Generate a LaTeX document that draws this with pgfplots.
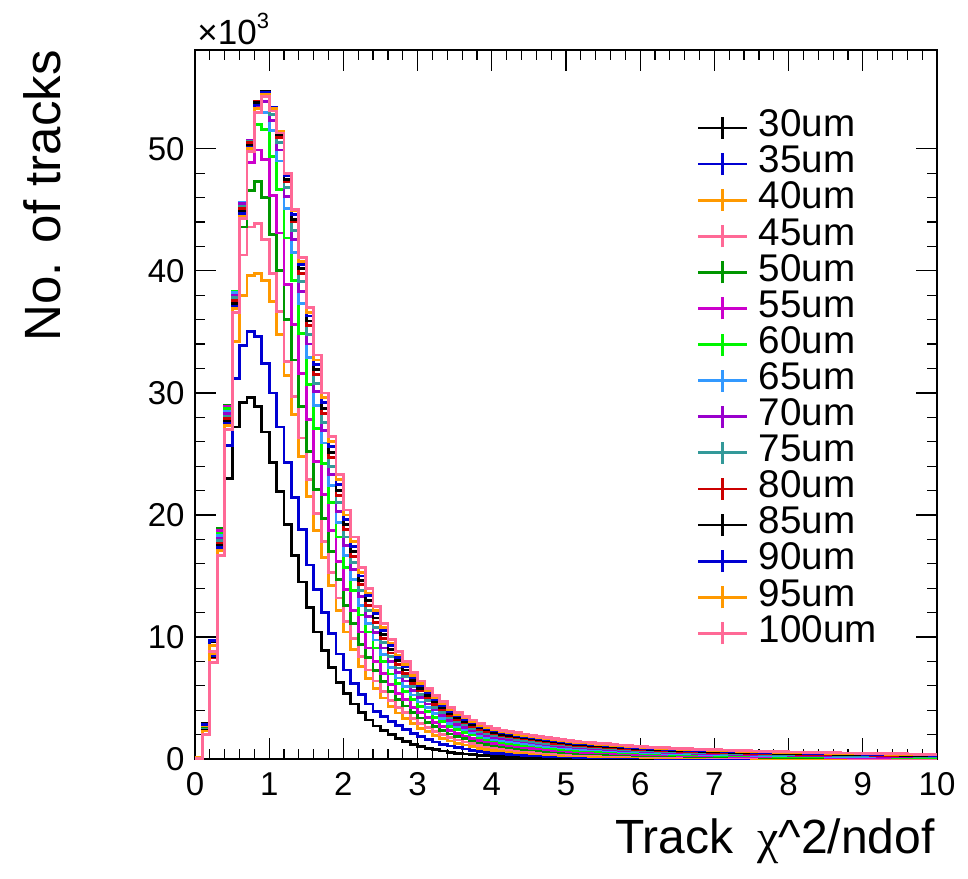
\documentclass[border=0pt]{standalone}
\usepackage{fontspec}
\setmainfont{Liberation Sans}
\newfontfamily\symfont{Liberation Serif}
\usepackage{pgfplots}
\pgfplotsset{compat=1.18}
\usepackage{pgfplotstable}
\definecolor{c30}{RGB}{0,0,0}
\definecolor{c35}{RGB}{0,0,210}
\definecolor{c40}{RGB}{255,153,0}
\definecolor{c45}{RGB}{255,105,150}
\definecolor{c50}{RGB}{0,150,0}
\definecolor{c55}{RGB}{204,0,204}
\definecolor{c60}{RGB}{0,245,0}
\definecolor{c65}{RGB}{51,153,255}
\definecolor{c70}{RGB}{153,0,204}
\definecolor{c75}{RGB}{51,153,153}
\definecolor{c80}{RGB}{204,0,0}
\pgfplotstableread{
x s30 s35 s40 s45 s50 s55 s60 s65 s70 s75 s80 s85 s90 s95 s100
0.0 0.1 0.1 0.1 0.1 0.1 0.1 0.1 0.1 0.1 0.1 0.1 0.1 0.1 0.1 0.05
0.1 2.9 2.8 2.6 2.5 2.5 2.45 2.45 2.4 2.4 2.4 2.35 2.35 2.3 2.3 2.0
0.2 9.6 9.7 9.3 8.8 8.6 8.4 8.3 8.3 8.3 8.3 8.3 8.4 8.5 8.6 7.9
0.3 17.8 18.3 18.4 18.6 18.9 18.7 18.5 18.3 18.1 17.9 17.7 17.5 17.3 17.1 16.7
0.4 23.0 25.7 27.5 28.2 29.0 28.9 28.7 28.5 28.3 28.1 27.9 27.7 27.5 27.3 27.0
0.5 27.2 31.2 34.2 37.0 38.0 38.3 38.3 38.2 38.0 37.8 37.6 37.3 37.1 36.9 36.6
0.6 29.2 33.9 38.0 41.3 43.6 45.0 45.5 45.6 45.5 45.3 45.1 44.9 44.7 44.5 44.3
0.7 29.6 35.0 39.6 43.6 46.6 48.9 50.2 50.6 50.7 50.6 50.5 50.3 50.1 50.0 49.8
0.8 28.9 34.6 39.8 43.9 47.3 49.9 52.0 53.0 53.5 53.8 53.9 53.8 53.6 53.3 53.0
0.9 26.8 32.4 39.2 42.6 46.0 49.1 51.6 53.0 53.9 54.3 54.6 54.7 54.6 54.5 54.3
1.0 24.3 30.0 37.5 39.8 43.0 46.2 49.4 51.5 52.3 52.8 53.1 53.4 53.4 53.3 53.1
1.1 21.9 27.2 34.8 36.7 40.0 43.1 46.7 49.0 49.9 50.5 50.9 51.2 51.3 51.4 51.3
1.2 19.2 24.3 31.4 32.6 36.0 38.9 42.7 45.1 46.1 46.8 47.3 47.5 47.8 48.0 48.0
1.3 16.7 21.4 28.2 29.7 32.7 35.6 39.2 41.5 42.6 43.3 44.0 44.2 44.6 44.9 45.0
1.4 14.5 18.8 24.8 26.3 28.9 31.6 34.9 37.3 38.3 39.1 39.8 40.2 40.5 40.8 41.1
1.5 12.4 15.9 21.5 22.9 25.2 27.8 30.7 32.9 34.0 34.8 35.5 35.9 36.3 36.6 37.0
1.6 10.4 13.9 18.7 20.1 22.1 24.4 27.1 29.0 30.1 30.8 31.5 31.9 32.3 32.7 33.1
1.7 8.9 12.0 16.5 17.8 19.7 21.7 24.2 25.9 26.9 27.6 28.3 28.7 29.2 29.6 30.0
1.8 7.5 10.3 14.2 15.3 17.0 18.7 21.0 22.4 23.3 24.0 24.7 25.1 25.6 26.0 26.4
1.9 6.3 8.6 12.2 13.2 14.7 16.2 18.2 19.4 20.3 21.0 21.6 22.0 22.5 22.9 23.3
2.0 5.4 7.3 10.4 11.3 12.6 13.9 15.7 16.7 17.5 18.2 18.8 19.2 19.6 20.0 20.4
2.1 4.5 6.2 9.0 9.9 11.1 12.2 13.8 14.7 15.5 16.1 16.6 17.0 17.4 17.8 18.2
2.2 3.8 5.3 7.6 8.4 9.4 10.4 11.8 12.6 13.3 13.8 14.3 14.6 15.0 15.3 15.7
2.3 3.2 4.5 6.6 7.3 8.3 9.1 10.4 11.1 11.7 12.2 12.6 13.0 13.4 13.6 14.0
2.4 2.7 3.9 5.8 6.4 7.25 8.0 9.1 9.75 10.35 10.8 11.2 11.55 11.9 12.2 12.5
2.5 2.35 3.5 5.0 5.55 6.33 7.0 8.0 8.55 9.1 9.55 9.88 10.2 10.55 10.8 11.1
2.6 2.0 3.1 4.3 4.81 5.50 6.10 6.97 7.47 7.97 8.37 8.68 8.99 9.29 9.50 9.8
2.7 1.7 2.75 3.77 4.24 4.86 5.40 6.18 6.64 7.09 7.46 7.76 8.04 8.32 8.52 8.8
2.8 1.45 2.4 3.34 3.78 4.34 4.85 5.54 5.97 6.39 6.74 7.02 7.29 7.55 7.74 8.0
2.9 1.2 2.1 2.88 3.29 3.79 4.25 4.86 5.24 5.62 5.94 6.21 6.45 6.69 6.86 7.1
3.0 1.02 1.85 2.53 2.91 3.36 3.78 4.32 4.67 5.02 5.31 5.57 5.79 6.02 6.18 6.4
3.1 0.88 1.6 2.23 2.59 2.99 3.38 3.86 4.19 4.51 4.78 5.02 5.23 5.44 5.59 5.8
3.2 0.76 1.4 1.94 2.27 2.64 2.98 3.42 3.71 4.01 4.25 4.48 4.67 4.87 5.01 5.2
3.3 0.65 1.22 1.70 2.01 2.34 2.66 3.05 3.32 3.59 3.82 4.03 4.21 4.39 4.52 4.7
3.4 0.56 1.07 1.47 1.76 2.05 2.34 2.68 2.93 3.18 3.39 3.59 3.75 3.91 4.04 4.2
3.5 0.48 0.93 1.29 1.56 1.82 2.09 2.39 2.62 2.85 3.04 3.23 3.38 3.53 3.65 3.8
3.6 0.41 0.82 1.15 1.40 1.65 1.89 2.17 2.39 2.60 2.78 2.96 3.10 3.24 3.36 3.5
3.7 0.35 0.72 1.02 1.25 1.47 1.70 1.96 2.16 2.36 2.52 2.69 2.83 2.96 3.06 3.2
3.8 0.30 0.63 0.89 1.10 1.31 1.51 1.75 1.94 2.12 2.27 2.42 2.55 2.67 2.77 2.9
3.9 0.26 0.55 0.80 1.00 1.19 1.39 1.61 1.78 1.95 2.10 2.24 2.37 2.48 2.58 2.7
4.0 0.22 0.48 0.72 0.90 1.08 1.26 1.47 1.63 1.79 1.93 2.07 2.18 2.29 2.38 2.5
4.1 0.20 0.43 0.65 0.82 0.99 1.16 1.36 1.52 1.67 1.80 1.93 2.04 2.15 2.24 2.35
4.2 0.18 0.39 0.60 0.77 0.92 1.09 1.28 1.44 1.58 1.72 1.84 1.95 2.05 2.14 2.25
4.3 0.16 0.35 0.55 0.71 0.86 1.02 1.21 1.36 1.50 1.63 1.75 1.86 1.95 2.04 2.15
4.4 0.14 0.31 0.50 0.66 0.80 0.96 1.13 1.28 1.41 1.54 1.66 1.76 1.86 1.94 2.05
4.5 0.12 0.28 0.45 0.60 0.74 0.89 1.06 1.20 1.33 1.46 1.57 1.67 1.76 1.85 1.95
4.6 0.11 0.25 0.41 0.56 0.68 0.83 0.99 1.13 1.25 1.37 1.48 1.58 1.67 1.75 1.85
4.7 0.10 0.22 0.37 0.51 0.63 0.77 0.92 1.05 1.17 1.29 1.39 1.49 1.57 1.65 1.75
4.8 0.09 0.20 0.33 0.46 0.58 0.71 0.85 0.98 1.09 1.21 1.30 1.40 1.48 1.56 1.65
4.9 0.08 0.18 0.30 0.43 0.54 0.66 0.80 0.93 1.04 1.15 1.24 1.33 1.41 1.49 1.58
5.0 0.07 0.16 0.27 0.39 0.50 0.62 0.75 0.87 0.98 1.08 1.17 1.26 1.34 1.41 1.5
5.1 0.07 0.15 0.26 0.37 0.47 0.59 0.72 0.84 0.94 1.04 1.13 1.22 1.29 1.36 1.45
5.2 0.06 0.14 0.245 0.35 0.45 0.56 0.69 0.80 0.90 1.00 1.09 1.17 1.24 1.31 1.4
5.3 0.06 0.13 0.23 0.34 0.43 0.54 0.66 0.77 0.86 0.96 1.04 1.13 1.20 1.27 1.35
5.4 0.05 0.12 0.22 0.32 0.41 0.51 0.63 0.73 0.83 0.92 1.00 1.08 1.15 1.22 1.3
5.5 0.05 0.11 0.21 0.30 0.39 0.49 0.60 0.70 0.79 0.88 0.96 1.04 1.10 1.17 1.25
5.6 0.05 0.10 0.20 0.29 0.37 0.47 0.57 0.67 0.75 0.84 0.92 0.99 1.06 1.12 1.2
5.7 0.04 0.10 0.185 0.27 0.35 0.44 0.54 0.63 0.72 0.80 0.88 0.95 1.01 1.08 1.15
5.8 0.04 0.09 0.175 0.26 0.33 0.42 0.51 0.60 0.68 0.76 0.83 0.91 0.97 1.03 1.1
5.9 0.04 0.09 0.165 0.24 0.315 0.40 0.49 0.57 0.65 0.72 0.79 0.86 0.92 0.98 1.05
6.0 0.03 0.08 0.153 0.23 0.30 0.37 0.46 0.54 0.61 0.69 0.75 0.82 0.88 0.93 1.0
6.1 0.03 0.08 0.146 0.22 0.285 0.36 0.44 0.52 0.59 0.66 0.73 0.79 0.85 0.90 0.97
6.2 0.03 0.07 0.139 0.21 0.27 0.34 0.425 0.50 0.57 0.64 0.70 0.77 0.82 0.87 0.94
6.3 0.03 0.07 0.133 0.20 0.26 0.33 0.41 0.48 0.55 0.62 0.68 0.74 0.79 0.84 0.91
6.4 0.03 0.07 0.127 0.19 0.25 0.32 0.39 0.46 0.53 0.59 0.65 0.71 0.77 0.82 0.88
6.5 0.03 0.06 0.119 0.18 0.24 0.30 0.37 0.44 0.51 0.57 0.63 0.69 0.74 0.79 0.85
6.6 0.03 0.06 0.114 0.17 0.23 0.29 0.36 0.43 0.49 0.55 0.61 0.67 0.72 0.77 0.83
6.7 0.03 0.06 0.109 0.165 0.22 0.28 0.35 0.415 0.48 0.54 0.60 0.65 0.70 0.75 0.81
6.8 0.03 0.05 0.104 0.16 0.213 0.27 0.34 0.40 0.46 0.52 0.58 0.64 0.68 0.73 0.79
6.9 0.03 0.05 0.099 0.15 0.205 0.26 0.33 0.39 0.45 0.51 0.56 0.62 0.67 0.71 0.77
7.0 0.02 0.04 0.095 0.145 0.197 0.25 0.315 0.375 0.43 0.49 0.55 0.60 0.65 0.69 0.75
7.1 0.02 0.04 0.091 0.14 0.19 0.243 0.30 0.36 0.42 0.47 0.53 0.58 0.63 0.67 0.73
7.2 0.02 0.04 0.087 0.13 0.182 0.234 0.29 0.35 0.40 0.46 0.51 0.565 0.61 0.65 0.71
7.3 0.02 0.04 0.083 0.127 0.175 0.225 0.28 0.34 0.39 0.44 0.50 0.55 0.59 0.64 0.69
7.4 0.02 0.04 0.079 0.12 0.167 0.216 0.27 0.325 0.38 0.43 0.48 0.53 0.575 0.62 0.67
7.5 0.02 0.04 0.073 0.115 0.16 0.207 0.26 0.31 0.36 0.41 0.46 0.51 0.56 0.60 0.65
7.6 0.02 0.04 0.07 0.11 0.153 0.198 0.25 0.30 0.35 0.40 0.45 0.50 0.54 0.58 0.63
7.7 0.02 0.04 0.067 0.105 0.149 0.193 0.243 0.29 0.34 0.39 0.44 0.49 0.53 0.57 0.62
7.8 0.02 0.04 0.065 0.10 0.145 0.187 0.237 0.285 0.33 0.38 0.43 0.48 0.52 0.56 0.61
7.9 0.02 0.04 0.062 0.098 0.14 0.182 0.23 0.28 0.326 0.37 0.42 0.47 0.51 0.55 0.6
8.0 0.02 0.035 0.058 0.093 0.133 0.174 0.22 0.267 0.313 0.36 0.41 0.45 0.49 0.53 0.58
8.1 0.02 0.035 0.057 0.09 0.13 0.17 0.215 0.26 0.307 0.352 0.40 0.444 0.484 0.524 0.57
8.2 0.02 0.035 0.055 0.088 0.127 0.166 0.21 0.256 0.30 0.345 0.39 0.435 0.475 0.515 0.56
8.3 0.02 0.035 0.054 0.086 0.124 0.162 0.206 0.25 0.294 0.338 0.38 0.427 0.466 0.505 0.55
8.4 0.02 0.035 0.052 0.083 0.121 0.158 0.201 0.245 0.288 0.331 0.375 0.419 0.457 0.496 0.54
8.5 0.01 0.03 0.05 0.079 0.117 0.153 0.195 0.237 0.279 0.32 0.362 0.404 0.441 0.478 0.52
8.6 0.01 0.03 0.048 0.077 0.114 0.149 0.19 0.231 0.272 0.313 0.354 0.396 0.432 0.469 0.51
8.7 0.01 0.03 0.047 0.074 0.111 0.145 0.185 0.226 0.266 0.306 0.346 0.387 0.423 0.459 0.5
8.8 0.01 0.03 0.045 0.072 0.108 0.141 0.18 0.22 0.259 0.299 0.338 0.379 0.414 0.45 0.49
8.9 0.01 0.03 0.044 0.07 0.105 0.137 0.175 0.214 0.252 0.291 0.33 0.37 0.405 0.44 0.48
9.0 0.01 0.025 0.042 0.067 0.102 0.133 0.17 0.208 0.245 0.284 0.321 0.362 0.396 0.43 0.47
9.1 0.01 0.025 0.041 0.065 0.099 0.13 0.166 0.202 0.239 0.277 0.313 0.353 0.387 0.42 0.46
9.2 0.01 0.025 0.04 0.063 0.097 0.126 0.161 0.197 0.232 0.27 0.305 0.345 0.378 0.41 0.45
9.3 0.01 0.025 0.038 0.061 0.094 0.122 0.157 0.192 0.226 0.263 0.297 0.336 0.369 0.40 0.44
9.4 0.01 0.025 0.037 0.059 0.091 0.119 0.153 0.186 0.219 0.256 0.289 0.327 0.36 0.39 0.43
9.5 0.01 0.02 0.035 0.057 0.088 0.115 0.148 0.181 0.213 0.249 0.281 0.319 0.35 0.38 0.42
9.6 0.01 0.02 0.034 0.055 0.085 0.112 0.144 0.176 0.207 0.242 0.273 0.31 0.341 0.37 0.41
9.7 0.01 0.02 0.033 0.053 0.083 0.109 0.14 0.17 0.201 0.236 0.266 0.302 0.332 0.36 0.40
9.8 0.01 0.02 0.032 0.051 0.08 0.106 0.136 0.166 0.196 0.229 0.259 0.294 0.324 0.355 0.39
9.9 0.01 0.02 0.030 0.049 0.076 0.103 0.133 0.163 0.194 0.224 0.255 0.289 0.315 0.345 0.38
10.0 0.01 0.02 0.030 0.049 0.076 0.103 0.133 0.163 0.194 0.224 0.255 0.289 0.315 0.345 0.38
}\histdata
\begin{document}
\begin{tikzpicture}
\useasboundingbox (-97.5pt,-59.5pt) rectangle (386.5pt,379.5pt);
\begin{axis}[
  at={(0pt,0pt)}, anchor=south west,
  scale only axis, width=371pt, height=354.5pt,
  xmin=0, xmax=10, ymin=0, ymax=58.1,
  xtick={0,1,...,10}, ytick={0,10,...,50},
  minor x tick num=4, minor y tick num=4,
  tick align=inside, tick pos=both,
  major tick length=10.5pt, minor tick length=5pt,
  every tick/.style={black, line width=0.6pt},
  axis line style={line width=1pt},
  scaled y ticks=false, scaled x ticks=false,
  /pgf/number format/assume math mode=true,
  ticklabel style={font=\fontsize{16.5}{19}\selectfont},
  xticklabel style={anchor=base, inner sep=0pt, yshift=-18pt},
  yticklabel style={anchor=east, inner sep=0pt, xshift=-5pt},
  every axis plot/.append style={line width=1.4pt, const plot},
  legend style={
    at={(0.6765,0.9155)}, anchor=north west,
    draw=none, fill=none, inner sep=0pt, outer sep=0pt,
    font=\fontsize{19.3}{22}\selectfont,
    nodes={inner sep=0pt, text height=13.4pt, text depth=4.65pt},
    row sep=0pt, column sep=5pt,
  },
  legend cell align=left,
  legend image code/.code={
    \draw[#1] (0pt,0pt) -- (24.5pt,0pt);
    \draw[#1] (12.25pt,-5.5pt) -- (12.25pt,5.5pt);
  },
]
\addplot[c30] table[x=x,y=s30]{\histdata};
\addlegendentry{30um}
\addplot[c35] table[x=x,y=s35]{\histdata};
\addlegendentry{35um}
\addplot[c40] table[x=x,y=s40]{\histdata};
\addlegendentry{40um}
\addplot[c45] table[x=x,y=s45]{\histdata};
\addlegendentry{45um}
\addplot[c50] table[x=x,y=s50]{\histdata};
\addlegendentry{50um}
\addplot[c55] table[x=x,y=s55]{\histdata};
\addlegendentry{55um}
\addplot[c60] table[x=x,y=s60]{\histdata};
\addlegendentry{60um}
\addplot[c65] table[x=x,y=s65]{\histdata};
\addlegendentry{65um}
\addplot[c70] table[x=x,y=s70]{\histdata};
\addlegendentry{70um}
\addplot[c75] table[x=x,y=s75]{\histdata};
\addlegendentry{75um}
\addplot[c80] table[x=x,y=s80]{\histdata};
\addlegendentry{80um}
\addplot[c30] table[x=x,y=s85]{\histdata};
\addlegendentry{85um}
\addplot[c35] table[x=x,y=s90]{\histdata};
\addlegendentry{90um}
\addplot[c40] table[x=x,y=s95]{\histdata};
\addlegendentry{95um}
\addplot[c45] table[x=x,y=s100]{\histdata};
\addlegendentry{100um}
\end{axis}
\node[rotate=90, anchor=base east, inner sep=0pt, font=\fontsize{25.5}{28}\selectfont] at (-67pt,354.5pt) {No. of tracks};
\node[anchor=base east, inner sep=0pt, font=\fontsize{24}{27}\selectfont] at (370pt,-47pt) {Track\hspace{12pt}{\symfont χ}\textasciicircum 2/ndof};
\node[anchor=base west, inner sep=0pt, font=\fontsize{17.5}{20}\selectfont] at (1pt,357pt) {×10\raisebox{8pt}{\fontsize{11}{12}\selectfont 3}};
\end{tikzpicture}
\end{document}
